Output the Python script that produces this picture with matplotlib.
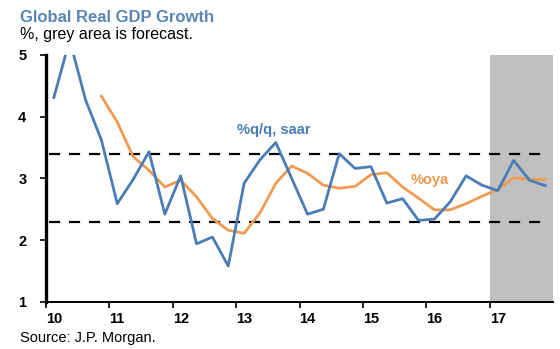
import matplotlib.pyplot as plt
import numpy as np

plt.rcParams['font.family'] = ['Liberation Sans', 'DejaVu Sans']

# quarterly data, 2010Q1 .. 2017Q4
qq_saar = [4.31, 5.24, 4.27, 3.62, 2.59, 2.98, 3.43, 2.42,
           3.04, 1.94, 2.05, 1.58, 2.92, 3.30, 3.58, 3.00,
           2.42, 2.50, 3.40, 3.16, 3.19, 2.60, 2.67, 2.32,
           2.34, 2.62, 3.04, 2.89, 2.80, 3.29, 2.97, 2.88]
# %oya starts 2010Q4
oya = [4.33, 3.91, 3.35, 3.13, 2.86, 2.97, 2.70, 2.35,
       2.16, 2.11, 2.44, 2.92, 3.20, 3.08, 2.89, 2.84,
       2.87, 3.06, 3.09, 2.86, 2.68, 2.49, 2.49, 2.59,
       2.71, 2.82, 3.01, 2.98, 2.98]
band = [3.4, 2.3]
forecast_start = 2017
year_labels = ['10', '11', '12', '13', '14', '15', '16', '17']

blue = '#4A7DB5'
orange = '#F09A52'
title_blue = '#5A86B6'

x_qq = 2010.125 + 0.25 * np.arange(len(qq_saar))
x_oya = 2010.875 + 0.25 * np.arange(len(oya))

fig = plt.figure(figsize=(5.6, 3.49), dpi=100)
ax = fig.add_axes([0.082, 0.135, 0.906, 0.708])

ax.axvspan(forecast_start, 2018, color='#C0C0C0', lw=0, zorder=0)
for b in band:
    ax.plot([2010.05, 2017.85], [b, b], color='black', lw=1.6,
            dashes=(5, 4), zorder=1)

ax.plot(x_qq, qq_saar, color=blue, lw=2.0, zorder=3)
ax.plot(x_oya, oya, color=orange, lw=2.0, zorder=2)

ax.text(2013.60, 3.78, '%q/q, saar', color=blue, fontsize=10.5,
        fontweight='bold', va='center', ha='center')
ax.text(2016.06, 2.97, '%oya', color=orange, fontsize=10.5,
        fontweight='bold', va='center', ha='center')

ax.set_xlim(2010, 2018)
ax.set_ylim(1, 5)
ax.set_yticks([1, 2, 3, 4, 5])
ax.set_xticks(range(2010, 2018))
ax.set_xticklabels(year_labels, ha='left')
for lab in ax.get_xticklabels() + ax.get_yticklabels():
    lab.set_fontweight('bold')
    lab.set_fontsize(10.5)
ax.tick_params(axis='both', direction='out', length=4, width=1.2,
               color='black')
ax.tick_params(axis='y', pad=10)
ax.tick_params(axis='x', pad=3)

ax.spines['top'].set_visible(False)
ax.spines['right'].set_visible(False)
ax.spines['left'].set_linewidth(2.4)
ax.spines['bottom'].set_linewidth(1.4)

fig.text(0.036, 0.951, 'Global Real GDP Growth', color=title_blue,
         fontsize=12, fontweight='bold', va='center')
fig.text(0.036, 0.900, '%, grey area is forecast.', color='black',
         fontsize=11.5, va='center')
fig.text(0.036, 0.032, 'Source: J.P. Morgan.', color='black',
         fontsize=10.5, va='center')

fig.savefig('out.png', dpi=100)
